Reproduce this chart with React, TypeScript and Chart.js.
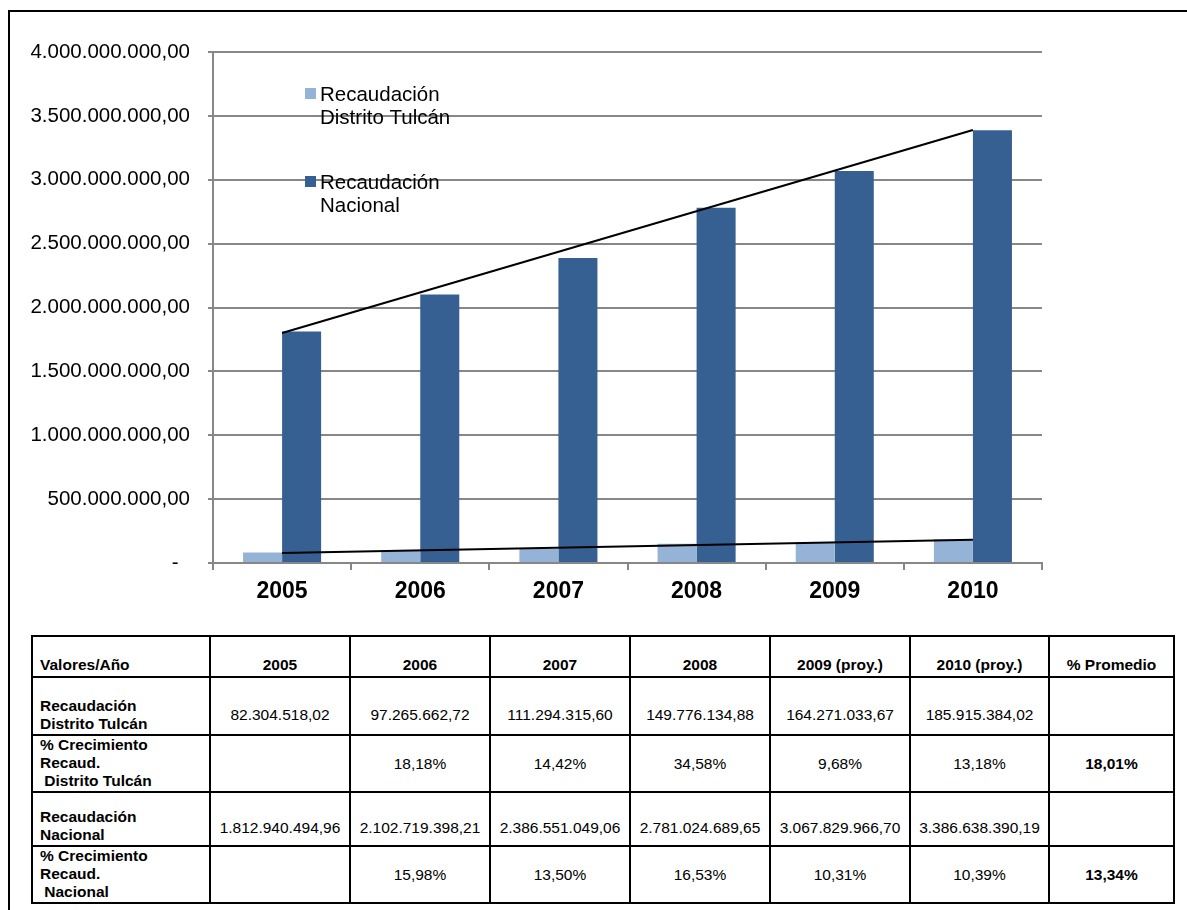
import React, { useEffect, useRef } from "react";
import { Chart, registerables } from "chart.js";

Chart.register(...registerables);

// ---------- data ----------
const years = ["2005", "2006", "2007", "2008", "2009", "2010"];
const seriesTulcanLabel = ["Recaudación", "Distrito Tulcán"];
const seriesNacionalLabel = ["Recaudación", "Nacional"];
const recTulcan = [82304518.02, 97265662.72, 111294315.6, 149776134.88, 164271033.67, 185915384.02];
const recNacional = [1812940494.96, 2102719398.21, 2386551049.06, 2781024689.65, 3067829966.7, 3386638390.19];
const trendNacional = [1.8e9, null, null, null, null, 3.39e9];
const trendTulcan = [78e6, null, null, null, null, 182e6];
const yMax = 4e9;
const yStep = 5e8;

const tableHeader = ["Valores/Año", "2005", "2006", "2007", "2008", "2009 (proy.)", "2010 (proy.)", "% Promedio"];
const rowLabels = [
  "Recaudación\nDistrito Tulcán",
  "% Crecimiento\nRecaud.\n Distrito Tulcán",
  "Recaudación\nNacional",
  "% Crecimiento\nRecaud.\n Nacional",
];
const growthTulcan = ["", "18,18%", "14,42%", "34,58%", "9,68%", "13,18%"];
const avgTulcan = "18,01%";
const growthNacional = ["", "15,98%", "13,50%", "16,53%", "10,31%", "10,39%"];
const avgNacional = "13,34%";

const LIGHT = "#95B3D7";
const DARK = "#376092";
const GRID = "#878787";
const FONT = "'Liberation Sans', Arial, sans-serif";

function fmtNum(v: number): string {
  const [i, d] = v.toFixed(2).split(".");
  return i.replace(/\B(?=(\d{3})+(?!\d))/g, ".") + "," + d;
}

const legendPlugin = {
  id: "customLegend",
  afterDraw(chart: any) {
    const ctx = chart.ctx;
    const entries = [
      { color: LIGHT, lines: seriesTulcanLabel, y: 88 },
      { color: DARK, lines: seriesNacionalLabel, y: 176 },
    ];
    ctx.save();
    ctx.font = `20.5px ${FONT}`;
    ctx.textBaseline = "middle";
    ctx.textAlign = "left";
    for (const e of entries) {
      ctx.fillStyle = e.color;
      ctx.fillRect(305, e.y, 11, 11);
      ctx.fillStyle = "#000";
      e.lines.forEach((l: string, k: number) => ctx.fillText(l, 320, e.y + 7 + k * 23));
    }
    ctx.restore();
  },
};

function ChartBox() {
  const ref = useRef<HTMLCanvasElement>(null);
  useEffect(() => {
    const chart = new Chart(ref.current!, {
      type: "bar",
      data: {
        labels: years,
        datasets: [
          {
            type: "line",
            label: "trendN",
            data: trendNacional as any,
            borderColor: "#000",
            borderWidth: 2,
            pointRadius: 0,
            spanGaps: true,
            order: 0,
          } as any,
          {
            type: "line",
            label: "trendT",
            data: trendTulcan as any,
            borderColor: "#000",
            borderWidth: 2,
            pointRadius: 0,
            spanGaps: true,
            order: 0,
          } as any,
          {
            label: seriesTulcanLabel.join(" "),
            data: recTulcan,
            backgroundColor: LIGHT,
            categoryPercentage: 0.565,
            barPercentage: 1,
            order: 1,
          },
          {
            label: seriesNacionalLabel.join(" "),
            data: recNacional,
            backgroundColor: DARK,
            categoryPercentage: 0.565,
            barPercentage: 1,
            order: 1,
          },
        ],
      },
      options: {
        animation: false,
        responsive: true,
        maintainAspectRatio: false,
        layout: { padding: { left: 0, right: 145, top: 52, bottom: 0 } },
        plugins: { legend: { display: false }, tooltip: { enabled: false } },
        scales: {
          x: {
            afterFit: (s: any) => {
              s.height = 62;
            },
            grid: {
              offset: true,
              drawOnChartArea: false,
              drawTicks: true,
              tickLength: 7,
              color: GRID,
              lineWidth: 2,
            },
            border: { color: GRID, width: 2 },
            ticks: {
              color: "#000",
              font: { family: FONT, size: 23, weight: "bold" },
              padding: 8,
            },
          },
          y: {
            min: 0,
            max: yMax,
            afterFit: (s: any) => {
              s.width = 213;
            },
            grid: { color: GRID, lineWidth: 2, tickLength: 5 },
            border: { color: GRID, width: 2 },
            ticks: {
              stepSize: yStep,
              color: "#000",
              padding: 18,
              font: { family: FONT, size: 20.5 },
              callback: (v: any) => (Number(v) === 0 ? "-  " : fmtNum(Number(v))),
            },
          },
        },
      },
      plugins: [legendPlugin],
    });
    return () => chart.destroy();
  }, []);
  return (
    <div style={{ position: "absolute", left: 0, top: 0, width: 1187, height: 625 }}>
      <canvas ref={ref} />
    </div>
  );
}

const colWidths = [178, 140, 140, 140, 140, 140, 139, 125];

function DataTable() {
  const cellBase: React.CSSProperties = {
    border: "2px solid #000",
    padding: 0,
    textAlign: "center",
  };
  const labelCell: React.CSSProperties = {
    ...cellBase,
    textAlign: "left",
    fontWeight: "bold",
    whiteSpace: "pre",
    verticalAlign: "bottom",
    paddingLeft: 7,
    paddingBottom: 1,
  };
  const rows: { label: string; vals: string[]; avg: string; h: number; va: string; pb: number }[] = [
    { label: rowLabels[0], vals: recTulcan.map(fmtNum), avg: "", h: 58, va: "bottom", pb: 10 },
    { label: rowLabels[1], vals: growthTulcan, avg: avgTulcan, h: 55, va: "middle", pb: 0 },
    { label: rowLabels[2], vals: recNacional.map(fmtNum), avg: "", h: 54, va: "bottom", pb: 8 },
    { label: rowLabels[3], vals: growthNacional, avg: avgNacional, h: 56, va: "middle", pb: 0 },
  ];
  return (
    <table
      style={{
        position: "absolute",
        left: 31,
        top: 635,
        borderCollapse: "collapse",
        tableLayout: "fixed",
        width: colWidths.reduce((a, b) => a + b, 0),
        fontFamily: FONT,
        fontSize: 15.5,
        lineHeight: "18px",
        color: "#000",
      }}
    >
      <colgroup>
        {colWidths.map((w, i) => (
          <col key={i} style={{ width: w }} />
        ))}
      </colgroup>
      <tbody>
        <tr style={{ height: 41 }}>
          {tableHeader.map((h, i) => (
            <td
              key={i}
              style={{
                ...cellBase,
                fontWeight: "bold",
                verticalAlign: "bottom",
                paddingBottom: 2,
                textAlign: i === 0 ? "left" : "center",
                paddingLeft: i === 0 ? 7 : 0,
              }}
            >
              {h}
            </td>
          ))}
        </tr>
        {rows.map((r, ri) => (
          <tr key={ri} style={{ height: r.h }}>
            <td style={labelCell}>{r.label}</td>
            {r.vals.map((v, i) => (
              <td key={i} style={{ ...cellBase, verticalAlign: r.va as any, paddingBottom: r.pb }}>
                {v}
              </td>
            ))}
            <td style={{ ...cellBase, fontWeight: "bold", verticalAlign: "middle" }}>{r.avg}</td>
          </tr>
        ))}
      </tbody>
    </table>
  );
}

export default function App() {
  return (
    <div style={{ position: "absolute", left: 0, top: 0, width: 1187, height: 910, background: "#fff" }}>
      <div
        style={{
          position: "absolute",
          left: 8,
          top: 10,
          width: 1179,
          height: 900,
          borderTop: "2px solid #000",
          borderLeft: "2px solid #000",
          boxSizing: "border-box",
        }}
      />
      <ChartBox />
      <DataTable />
    </div>
  );
}
